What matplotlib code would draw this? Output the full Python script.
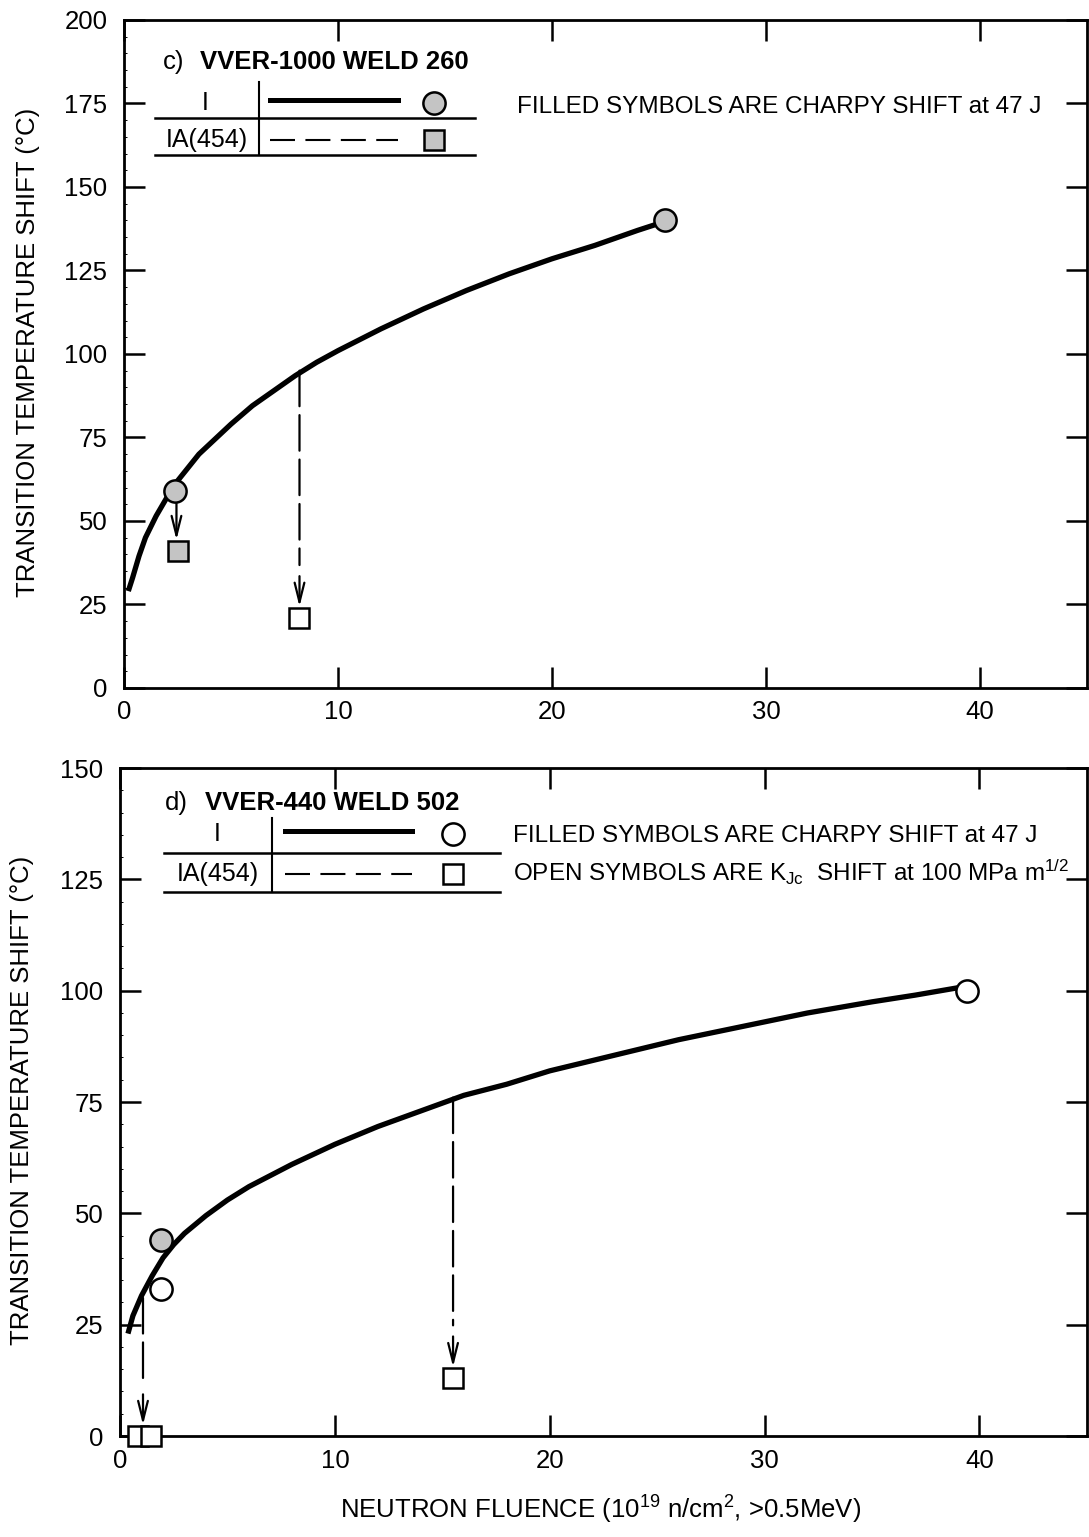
#!/usr/bin/env python3
"""Przesuniecie temperatury przejscia vs fluencja neutronow, spoiny VVER-1000 i VVER-440."""

import matplotlib
matplotlib.use("Agg")
import matplotlib.pyplot as plt
from matplotlib.lines import Line2D
from matplotlib.ticker import MultipleLocator

plt.rcParams["font.family"] = ["Liberation Sans", "DejaVu Sans"]
plt.rcParams["mathtext.fontset"] = "custom"
plt.rcParams["mathtext.rm"] = "Liberation Sans"
plt.rcParams["mathtext.it"] = "Liberation Sans"

GRAY = "#c4c4c4"

# c) VVER-1000 WELD 260 -- krzywa stanu napromienionego (I)
C_CURVE_FLUENCE = [0.2, 0.4, 0.7, 1.0, 1.5, 2, 2.5, 3, 3.5, 4, 5, 6, 7, 8, 9, 10,
                   12, 14, 16, 18, 20, 22, 24, 25.2]
C_CURVE_SHIFT = [29, 33, 39.5, 45, 51.5, 57, 62, 66, 70, 73, 79, 84.5, 89, 93.5, 97.5, 101,
                 107.5, 113.5, 119, 124, 128.5, 132.5, 137, 139.5]
C_I_FLUENCE = [2.4, 25.3]
C_I_SHIFT = [59, 140]
C_IA_FLUENCE = [2.5, 8.2]
C_IA_SHIFT = [41, 21]
C_IA_FILLED = [True, False]
# strzalki: fluencja, skad (wartosc na krzywej / punkt I), dokad (punkt IA), przerywana?
C_DROP_FLUENCE = [2.45, 8.2]
C_DROP_FROM = [59, 95]
C_DROP_TO = [41, 21]
C_DROP_DASHED = [False, True]

# d) VVER-440 WELD 502
D_CURVE_FLUENCE = [0.37, 0.6, 1, 1.5, 2, 2.5, 3, 4, 5, 6, 8, 10, 12, 14, 16, 18, 20,
                   23, 26, 29, 32, 35, 37, 39.4]
D_CURVE_SHIFT = [23, 27, 31.5, 36, 40, 43, 45.5, 49.5, 53, 56, 61, 65.5, 69.5, 73, 76.5, 79, 82,
                 85.5, 89, 92, 95, 97.5, 99, 101]
D_I_FLUENCE = [1.9, 1.9, 39.4]
D_I_SHIFT = [44, 33, 100]
D_I_FILLED = [True, False, False]
D_IA_FLUENCE = [0.85, 1.45, 15.5]
D_IA_SHIFT = [0, 0, 13]
D_DROP_FLUENCE = [1.07, 15.5]
D_DROP_FROM = [31, 76]
D_DROP_TO = [0, 13]
D_DROP_DASHED = [True, True]

X_TICKS = [0, 10, 20, 30, 40]


def style_axes(ax, ymax, ystep):
    ax.set_xlim(0, 45)
    ax.set_ylim(0, ymax)
    ax.set_xticks(X_TICKS)
    ax.set_yticks(range(0, ymax + 1, ystep))
    ax.yaxis.set_minor_locator(MultipleLocator(5))
    ax.tick_params(which="major", direction="in", length=15, width=1.8,
                   labelsize=18.5, top=True, right=True)
    ax.tick_params(axis="y", which="major", pad=12)
    ax.tick_params(axis="x", which="major", pad=9)
    ax.tick_params(which="minor", direction="in", length=2.5, width=0.7,
                   left=True, right=False, bottom=False, top=False)
    for spine in ax.spines.values():
        spine.set_linewidth(2.0)


def draw_points(ax, xs, ys, marker, filled):
    for x, y, f in zip(xs, ys, filled):
        ax.plot(x, y, marker=marker, markersize=16 if marker == "o" else 15,
                markerfacecolor=GRAY if f else "white", markeredgecolor="black",
                markeredgewidth=1.8, linestyle="none", clip_on=False, zorder=4)


def draw_drops(ax, xs, y_from, y_to, dashed):
    head = "->,head_length=1.4,head_width=0.35"
    for x, y0, y1, d in zip(xs, y_from, y_to, dashed):
        if d:
            # przerywana linia od krzywej, potem krotka ciagla strzalka do kwadratu
            ax.annotate("", xy=(x, y1), xytext=(x, y0),
                        arrowprops=dict(arrowstyle="-", linestyle=(0, (16, 4)),
                                        lw=1.6, shrinkA=0, shrinkB=38))
            ax.annotate("", xy=(x, y1), xytext=(0, 30), textcoords="offset points",
                        arrowprops=dict(arrowstyle=head, lw=1.6, mutation_scale=10,
                                        shrinkA=0, shrinkB=8))
        else:
            ax.annotate("", xy=(x, y1), xytext=(x, y0),
                        arrowprops=dict(arrowstyle=head, lw=1.6, mutation_scale=10,
                                        shrinkA=9, shrinkB=8))


def key_table(ax, x0, x1, xv, y_top, y_mid, y_bot, xs, ys_rows, circle_fill, square_fill):
    """Tabelka opisu: I / IA(454) z probka linii i symbolu."""
    tr = ax.transAxes
    kw = dict(transform=tr, color="black", clip_on=False)
    ax.add_line(Line2D([x0, x1], [y_mid, y_mid], lw=1.8, **kw))
    ax.add_line(Line2D([x0, x1], [y_bot, y_bot], lw=1.8, **kw))
    ax.add_line(Line2D([xv, xv], [y_top, y_bot], lw=1.5, **kw))
    r1, r2 = ys_rows
    ax.text(xs[0], r1, "I", transform=tr, fontsize=18, ha="center", va="center")
    ax.text(xs[1], r2, "IA(454)", transform=tr, fontsize=18, ha="center", va="center")
    ax.add_line(Line2D(xs[2:4], [r1 + 0.004, r1 + 0.004], lw=3.6, **kw))
    ax.add_line(Line2D(xs[2:4], [r2, r2], lw=1.5, linestyle=(0, (12, 5)), **kw))
    ax.add_line(Line2D([xs[4]], [r1], marker="o", markersize=16, markeredgewidth=1.8,
                       markerfacecolor=GRAY if circle_fill else "white",
                       markeredgecolor="black", linestyle="none", transform=tr, clip_on=False))
    ax.add_line(Line2D([xs[4]], [r2], marker="s", markersize=14, markeredgewidth=1.8,
                       markerfacecolor=GRAY if square_fill else "white",
                       markeredgecolor="black", linestyle="none", transform=tr, clip_on=False))


fig = plt.figure(figsize=(10.89, 15.37), dpi=100)
ax_c = fig.add_axes([0.1139, 0.5524, 0.8842, 0.4346])
ax_d = fig.add_axes([0.1102, 0.0657, 0.8879, 0.4346])

# --- panel c) ---
style_axes(ax_c, 200, 25)
ax_c.plot(C_CURVE_FLUENCE, C_CURVE_SHIFT, color="black", lw=3.8,
          solid_capstyle="butt", solid_joinstyle="round", zorder=3)
draw_drops(ax_c, C_DROP_FLUENCE, C_DROP_FROM, C_DROP_TO, C_DROP_DASHED)
draw_points(ax_c, C_I_FLUENCE, C_I_SHIFT, "o", [True] * len(C_I_FLUENCE))
draw_points(ax_c, C_IA_FLUENCE, C_IA_SHIFT, "s", C_IA_FILLED)

ax_c.text(0.040, 0.937, "c)", transform=ax_c.transAxes, fontsize=18.5, va="center")
ax_c.text(0.079, 0.937, "VVER-1000 WELD 260", transform=ax_c.transAxes,
          fontsize=18.5, fontweight="bold", va="center")
key_table(ax_c, 0.032, 0.365, 0.140, 0.907, 0.853, 0.798,
          [0.084, 0.086, 0.152, 0.285, 0.322], (0.876, 0.821), True, True)
ax_c.text(0.408, 0.870, "FILLED SYMBOLS ARE CHARPY SHIFT at 47 J",
          transform=ax_c.transAxes, fontsize=17.5, va="center")

# --- panel d) ---
style_axes(ax_d, 150, 25)
ax_d.plot(D_CURVE_FLUENCE, D_CURVE_SHIFT, color="black", lw=3.8,
          solid_capstyle="butt", solid_joinstyle="round", zorder=3)
draw_drops(ax_d, D_DROP_FLUENCE, D_DROP_FROM, D_DROP_TO, D_DROP_DASHED)
draw_points(ax_d, D_I_FLUENCE, D_I_SHIFT, "o", D_I_FILLED)
draw_points(ax_d, D_IA_FLUENCE, D_IA_SHIFT, "s", [False] * len(D_IA_FLUENCE))

ax_d.text(0.046, 0.948, "d)", transform=ax_d.transAxes, fontsize=18.5, va="center")
ax_d.text(0.088, 0.948, "VVER-440 WELD 502", transform=ax_d.transAxes,
          fontsize=18.5, fontweight="bold", va="center")
key_table(ax_d, 0.046, 0.393, 0.157, 0.925, 0.873, 0.814,
          [0.101, 0.101, 0.171, 0.302, 0.344], (0.902, 0.842), False, False)
ax_d.text(0.406, 0.898, "FILLED SYMBOLS ARE CHARPY SHIFT at 47 J",
          transform=ax_d.transAxes, fontsize=17.5, va="center")
ax_d.text(0.406, 0.843, r"OPEN SYMBOLS ARE K$_{\rm Jc}$  SHIFT at 100 MPa m$^{1/2}$",
          transform=ax_d.transAxes, fontsize=17.5, va="center")

ylabel = "TRANSITION TEMPERATURE SHIFT (\u00b0C)"
fig.text(0.0257, 0.771, ylabel, rotation=90, ha="center", va="center", fontsize=18.5)
fig.text(0.0205, 0.2843, ylabel, rotation=90, ha="center", va="center", fontsize=18.5)
fig.text(0.551, 0.0176, r"NEUTRON FLUENCE (10$^{19}$ n/cm$^{2}$, >0.5MeV)",
         ha="center", va="center", fontsize=18.5)

fig.savefig("out.png", dpi=100, facecolor="white")
plt.close(fig)
